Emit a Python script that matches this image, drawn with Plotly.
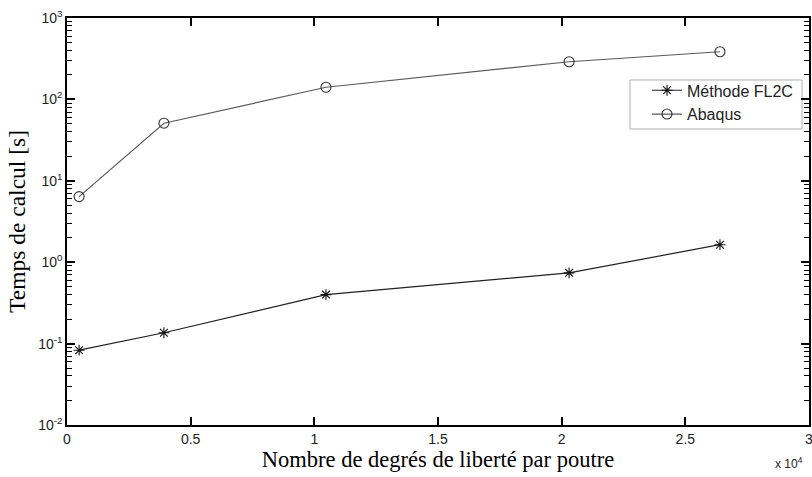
import plotly.graph_objects as go

# Data (x in degrees of freedom, y in seconds)
dof_fl2c = [490, 3920, 10470, 20300, 26400]
t_fl2c = [0.083, 0.136, 0.40, 0.74, 1.64]
dof_abaqus = [490, 3920, 10470, 20300, 26400]
t_abaqus = [6.4, 51, 141, 290, 385]
x_tick_step = 0.5
y_ticks = [1e-2, 1e-1, 1e0, 1e1, 1e2, 1e3]
y_tick_labels = ["10<sup>-2</sup>", "10<sup>-1</sup>", "10<sup>0</sup>", "10<sup>1</sup>", "10<sup>2</sup>", "10<sup>3</sup>"]
y_minor_ticks = [m * d for d in [1e-2, 1e-1, 1e0, 1e1, 1e2] for m in range(2, 10)]
scale = 1e4

fig = go.Figure()
fig.add_trace(go.Scatter(
    x=[v / scale for v in dof_fl2c], y=t_fl2c, mode="lines+markers",
    name="Méthode FL2C",
    line=dict(color="#222222", width=1.2),
    marker=dict(symbol="asterisk-open", size=9, color="#111111", line=dict(width=1.1, color="#111111")),
))
fig.add_trace(go.Scatter(
    x=[v / scale for v in dof_abaqus], y=t_abaqus, mode="lines+markers",
    name="Abaqus",
    line=dict(color="#5a5a5a", width=1.2),
    marker=dict(symbol="circle-open", size=10, color="#333333", line=dict(width=1.1, color="#333333")),
))

axis_common = dict(
    showline=True, linecolor="black", linewidth=1.5, mirror="ticks",
    ticks="inside", tickcolor="black", tickwidth=1.5, showgrid=False, zeroline=False,
    ticklabeloverflow="allow",
    tickfont=dict(family="Liberation Sans, Arial", size=14, color="#222222"),
)

fig.update_xaxes(
    range=[0, 3], tick0=0, dtick=x_tick_step, ticklen=8,
    title=dict(text="Nombre de degrés de liberté par poutre",
               font=dict(family="Liberation Serif, Times New Roman", size=22.5, color="black"),
               standoff=4),
    **axis_common,
)
fig.update_yaxes(
    type="log", range=[-2, 3], tickmode="array", tickvals=y_ticks, ticktext=y_tick_labels, ticklen=8,
    minor=dict(ticks="inside", ticklen=5, tickcolor="black", tickwidth=1, showgrid=False,
               tickmode="array", tickvals=y_minor_ticks),
    title=dict(text="Temps de calcul [s]",
               font=dict(family="Liberation Serif, Times New Roman", size=23.5, color="black"),
               standoff=6),
    **axis_common,
)

fig.add_annotation(
    xref="paper", yref="paper", x=1.0, y=0, xanchor="right", yanchor="top",
    xshift=-4, yshift=-28, text="x 10<sup>4</sup>", showarrow=False,
    font=dict(family="Liberation Sans, Arial", size=12, color="#222222"),
)

# legend frame
fig.add_shape(
    type="rect", xref="paper", yref="paper",
    x0=0.7588, x1=0.9906, y0=0.7273, y1=0.8477,
    line=dict(color="black", width=1), fillcolor="white", layer="below",
)

fig.update_layout(
    template="simple_white",
    width=812, height=477,
    margin=dict(l=67, r=3, t=18, b=52, autoexpand=False),
    paper_bgcolor="white", plot_bgcolor="white",
    showlegend=True,
    legend=dict(
        x=0.7817, y=0.864, xanchor="left", yanchor="top",
        borderwidth=0, bgcolor="rgba(0,0,0,0)",
        font=dict(family="Liberation Sans, Arial", size=16, color="#222222"),
        tracegroupgap=0,
    ),
)

fig.write_html(
    "out.html",
    config={"displayModeBar": False},
    post_script="document.body.style.margin='0';document.body.style.padding='0';",
)
